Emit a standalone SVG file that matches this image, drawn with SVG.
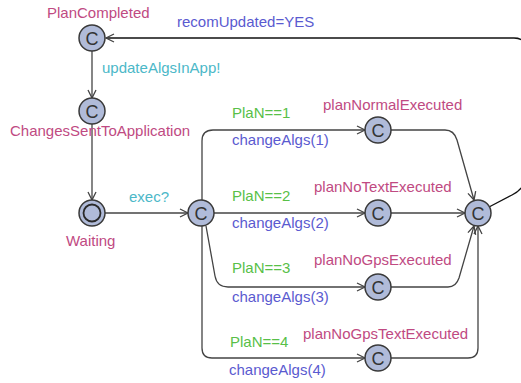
<svg xmlns="http://www.w3.org/2000/svg" width="521" height="383" viewBox="0 0 521 383">
<style>
text{font-family:"Liberation Sans",Arial,sans-serif;font-size:15px}
.nm{fill:#c04a82}
.sy{fill:#4cb8c8}
.gd{fill:#58c048}
.as{fill:#5a5ad0}
.loc{fill:#b0bbd9;stroke:#3a3a3a;stroke-width:1.5}
.c{font-size:18px;fill:#333;text-anchor:middle}
.e{fill:none;stroke:#444;stroke-width:1.3;marker-end:url(#ar)}
</style>
<defs>
<marker id="ar" markerUnits="userSpaceOnUse" markerWidth="12" markerHeight="12" refX="9" refY="5" orient="auto">
<path d="M1,1 L9,5 L1,9" fill="none" stroke="#444" stroke-width="1.3"/>
</marker>
</defs>
<g id="connectors">
<path class="e" style="stroke:#111" d="M489 207 L512 195 Q526 188 526 174 L526 50 Q526 38 514 38 L106 38"/>
<path class="e" d="M92 51 L92 98"/>
<path class="e" d="M92 124 L92 200"/>
<path class="e" d="M105 213 L188 213"/>
<path class="e" d="M202 200 L202 141 Q202 130 213 130 L365 130"/>
<path class="e" d="M214 213 L365 213"/>
<path class="e" d="M206 226 L215 276 Q217 287 228 287 L365 287"/>
<path class="e" d="M202 226 L202 348 Q202 358 212 358 L365 358"/>
<path class="e" d="M391 130 L445 130 Q454 130 457 140 L474 200"/>
<path class="e" d="M391 213 L465 213"/>
<path class="e" d="M391 287 L448 287 Q456 287 459 278 L474 226"/>
<path class="e" d="M391 358 L468 358 Q478 358 478 348 L478 226"/>
</g>
<g id="labels">
<text class="as" x="177" y="27">recomUpdated=YES</text>
<text class="sy" x="102" y="73">updateAlgsInApp!</text>
<text class="sy" x="129" y="202">exec?</text>
<text class="gd" x="232" y="118">PlaN==1</text>
<text class="as" x="232" y="145">changeAlgs(1)</text>
<text class="gd" x="232" y="201">PlaN==2</text>
<text class="as" x="232" y="228">changeAlgs(2)</text>
<text class="gd" x="232" y="273">PlaN==3</text>
<text class="as" x="232" y="302">changeAlgs(3)</text>
<text class="gd" x="230" y="347">PlaN==4</text>
<text class="as" x="229" y="375">changeAlgs(4)</text>
</g>
<g id="PlanCompleted">
<circle class="loc" cx="92" cy="38" r="13"/>
<text class="c" x="92" y="44.5">C</text>
<text class="nm" x="47" y="18">PlanCompleted</text>
</g>
<g id="ChangesSentToApplication">
<circle class="loc" cx="92" cy="111" r="13"/>
<text class="c" x="92" y="117.5">C</text>
<text class="nm" x="10" y="136">ChangesSentToApplication</text>
</g>
<g id="Waiting">
<circle class="loc" cx="92" cy="213" r="13"/>
<circle cx="92" cy="213" r="8.5" fill="none" stroke="#2a2a2a" stroke-width="1.8"/>
<text class="nm" x="66" y="246">Waiting</text>
</g>
<g id="Hub">
<circle class="loc" cx="201" cy="213" r="13"/>
<text class="c" x="201" y="219.5">C</text>
</g>
<g id="planNormalExecuted">
<circle class="loc" cx="378" cy="130" r="13"/>
<text class="c" x="378" y="136.5">C</text>
<text class="nm" x="323" y="110">planNormalExecuted</text>
</g>
<g id="planNoTextExecuted">
<circle class="loc" cx="378" cy="213" r="13"/>
<text class="c" x="378" y="219.5">C</text>
<text class="nm" x="314" y="192">planNoTextExecuted</text>
</g>
<g id="planNoGpsExecuted">
<circle class="loc" cx="378" cy="287" r="13"/>
<text class="c" x="378" y="293.5">C</text>
<text class="nm" x="314" y="265">planNoGpsExecuted</text>
</g>
<g id="planNoGpsTextExecuted">
<circle class="loc" cx="378" cy="358" r="13"/>
<text class="c" x="378" y="364.5">C</text>
<text class="nm" x="303" y="339">planNoGpsTextExecuted</text>
</g>
<g id="Final">
<circle class="loc" cx="478" cy="213" r="13"/>
<text class="c" x="478" y="219.5">C</text>
</g>
</svg>
